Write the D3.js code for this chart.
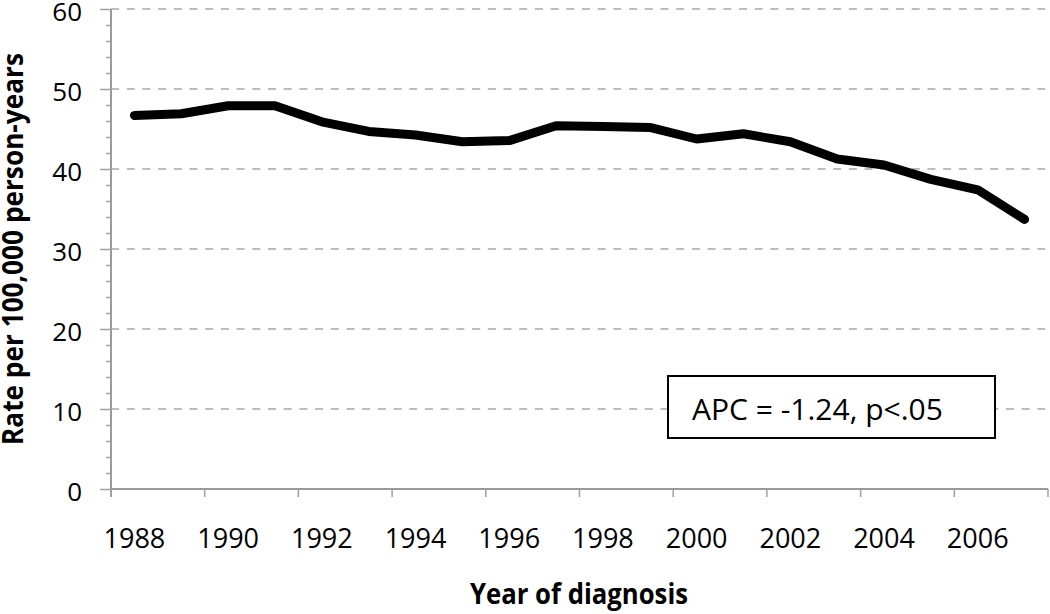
<!DOCTYPE html>
<html>
<head>
<meta charset="utf-8">
<script src="https://cdn.jsdelivr.net/npm/d3@7"></script>
<style>
    body { margin: 0; background: #fff; }
    svg { display: block; }
    text { font-family: "Open Sans", "Noto Sans", sans-serif; fill: #000; }
</style>
</head>
<body>
<svg width="1050" height="614"></svg>
<script>
"use strict";

// Chart data
var years = ["1988", "1989", "1990", "1991", "1992", "1993", "1994", "1995", "1996", "1997",
             "1998", "1999", "2000", "2001", "2002", "2003", "2004", "2005", "2006", "2007"];
var rates = [46.7, 46.9, 47.9, 47.9, 45.9, 44.7, 44.25, 43.4, 43.55, 45.4,
             45.3, 45.2, 43.75, 44.4, 43.4, 41.25, 40.5, 38.7, 37.4, 33.7];
var yTicks = [0, 10, 20, 30, 40, 50, 60];
var xTickLabels = ["1988", "1990", "1992", "1994", "1996", "1998", "2000", "2002", "2004", "2006"];
var annotation = "APC = -1.24, p<.05";
var xTitle = "Year of diagnosis";
var yTitle = "Rate per 100,000 person-years";

var plotLeft = 111, plotRight = 1048, plotTop = 9, plotBottom = 489;

var svg = d3.select("svg");

// Scales
var xScale = d3.scaleBand()
    .domain(years)
    .range([plotLeft, plotRight]);

var yScale = d3.scaleLinear()
    .domain([0, 60])
    .range([plotBottom, plotTop]);

// Dashed gridlines
svg.append("g")
    .attr("class", "grid")
    .selectAll("line")
    .data(yTicks.filter(function (d) { return d > 0; }))
    .enter().append("line")
        .attr("x1", plotLeft)
        .attr("x2", plotRight)
        .attr("y1", function (d) { return yScale(d); })
        .attr("y2", function (d) { return yScale(d); })
        .attr("stroke", "#a8a8a8")
        .attr("stroke-width", 1.5)
        .attr("stroke-dasharray", "8,7.7");

// Minor ticks on y axis
var minor = d3.range(0, 61, 2).filter(function (d) { return d % 10 !== 0; });
svg.append("g")
    .attr("transform", "translate(" + plotLeft + ",0)")
    .call(d3.axisLeft(yScale).tickValues(minor).tickSize(5).tickFormat(""))
    .call(function (g) { g.select(".domain").remove(); })
    .selectAll("line")
        .attr("stroke", "#a0a0a0")
        .attr("stroke-width", 1.5);

// Y axis
var yAxis = svg.append("g")
    .attr("class", "y-axis")
    .attr("transform", "translate(" + plotLeft + ",0)")
    .call(d3.axisLeft(yScale).tickValues(yTicks).tickSize(11).tickPadding(18).tickFormat(d3.format("d")));

yAxis.select(".domain")
    .attr("stroke", "#9a9a9a")
    .attr("stroke-width", 2)
    .attr("d", "M0," + plotTop + "V" + (plotBottom + 8));
yAxis.selectAll(".tick line")
    .attr("stroke", "#a0a0a0")
    .attr("stroke-width", 1.5);
yAxis.selectAll(".tick text")
    .attr("dy", "11px")
    .style("font-size", "26px");

// X axis line and boundary ticks
svg.append("line")
    .attr("x1", plotLeft)
    .attr("x2", plotRight)
    .attr("y1", plotBottom)
    .attr("y2", plotBottom)
    .attr("stroke", "#9a9a9a")
    .attr("stroke-width", 2);

var bounds = xTickLabels.map(function (d) { return xScale(d); }).concat([plotRight]);
svg.append("g")
    .selectAll("line")
    .data(bounds)
    .enter().append("line")
        .attr("x1", function (d) { return d; })
        .attr("x2", function (d) { return d; })
        .attr("y1", plotBottom)
        .attr("y2", plotBottom + 8)
        .attr("stroke", "#a0a0a0")
        .attr("stroke-width", 1.5);

// X labels
var xAxis = svg.append("g")
    .attr("class", "x-axis")
    .attr("transform", "translate(0," + plotBottom + ")")
    .call(d3.axisBottom(xScale).tickValues(xTickLabels).tickSize(0));
xAxis.select(".domain").remove();
xAxis.selectAll(".tick text")
    .attr("y", 59)
    .attr("dy", 0)
    .style("font-size", "27px");

// Line
var line = d3.line()
    .x(function (d, i) { return xScale(years[i]) + xScale.bandwidth() / 2; })
    .y(function (d) { return yScale(d); });

svg.append("path")
    .datum(rates)
    .attr("d", line)
    .attr("fill", "none")
    .attr("stroke", "#000")
    .attr("stroke-width", 9)
    .attr("stroke-linejoin", "round")
    .attr("stroke-linecap", "round");

// Annotation box
svg.append("rect")
    .attr("x", 668)
    .attr("y", 376)
    .attr("width", 327)
    .attr("height", 62)
    .attr("fill", "#fff")
    .attr("stroke", "#000")
    .attr("stroke-width", 2);

svg.append("text")
    .attr("x", 692)
    .attr("y", 420)
    .style("font-size", "30px")
    .text(annotation);

// Axis titles
svg.append("text")
    .attr("x", 579)
    .attr("y", 604)
    .attr("text-anchor", "middle")
    .attr("textLength", 218)
    .attr("lengthAdjust", "spacingAndGlyphs")
    .style("font-size", "28px")
    .style("font-weight", "bold")
    .text(xTitle);

svg.append("text")
    .attr("transform", "translate(23," + ((plotTop + plotBottom) / 2) + ") rotate(-90)")
    .attr("text-anchor", "middle")
    .attr("textLength", 392)
    .attr("lengthAdjust", "spacingAndGlyphs")
    .style("font-size", "28px")
    .style("font-weight", "bold")
    .text(yTitle);
</script>
</body>
</html>
